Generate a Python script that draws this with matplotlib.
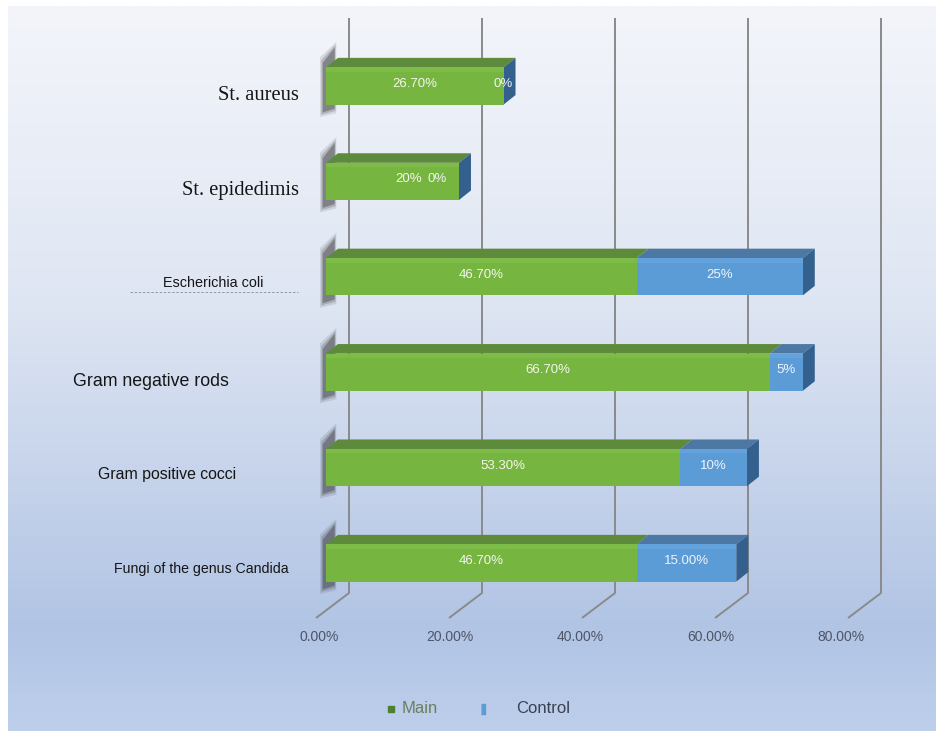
import numpy as np
import matplotlib
matplotlib.use('Agg')
from matplotlib import pyplot as plt
from matplotlib.patches import Rectangle, Polygon
from matplotlib.colors import LinearSegmentedColormap

# data
categories = ['St. aureus', 'St. epidedimis', 'Escherichia coli',
              'Gram negative rods', 'Gram positive cocci', 'Fungi of the genus Candida']
main = [26.7, 20.0, 46.7, 66.7, 53.3, 46.7]
control = [0.0, 0.0, 25.0, 5.0, 10.0, 15.0]
main_labels = ['26.70%', '20%', '46.70%', '66.70%', '53.30%', '46.70%']
control_labels = ['0%', '0%', '25%', '5%', '10%', '15.00%']
ticks = [0, 20, 40, 60, 80]
tick_labels = ['0.00%', '20.00%', '40.00%', '60.00%', '80.00%']
series = ['Main', 'Control']

# layout (pixels -> data)
W, H = 937, 731
x0_px, px_pct = 326, 6.65      # 0% position, px per 1%
y0_px, px_row = 86, 95.4       # first row centre, px per row
def dx(px): return (px - x0_px) / px_pct
def dy(py): return (py - y0_px) / px_row

fig = plt.figure(figsize=(W/100, H/100), dpi=100, facecolor='white')
ax = fig.add_axes([0, 0, 1, 1])
ax.set_xlim(dx(0), dx(W))
ax.set_ylim(dy(H), dy(0))
ax.axis('off')

# background gradient
cmap = LinearSegmentedColormap.from_list('bg', [(0, '#f3f5fa'), (0.4, '#dfe6f3'),
                                                (0.86, '#b1c4e4'), (1, '#bdcfeb')])
ax.imshow(np.linspace(0, 1, 256).reshape(-1, 1), cmap=cmap, aspect='auto',
          extent=[dx(8), dx(W), dy(H), dy(6)], zorder=0, interpolation='bilinear')

# back wall grid + floor lines
back = 3.46
for t in ticks:
    ax.plot([t + back, t + back, t - 1.5], [dy(18), dy(593), dy(618)],
            color='#8a8a8a', lw=1.4, zorder=1, solid_capstyle='butt')

h = 0.39
ddx, ddy = 1.8, -0.1
g_front, g_top = '#77b541', '#5e8a3c'
b_front, b_top, b_side = '#5b9bd6', '#4d78a4', '#33608d'

for i, (m, c) in enumerate(zip(main, control)):
    top = i - h/2
    bot = i + h/2
    # dark blurred left end (soft layers)
    for k, a in enumerate([0.12, 0.2, 0.35]):
        g = 0.35 - k*0.12
        ax.add_patch(Polygon([(-0.9 + k*0.2, top - 0.02 - g*0.25),
                              (1.2 + g, top + ddy - 0.08 - g*0.25),
                              (1.2 + g, bot + ddy + 0.12 + g*0.2),
                              (-0.9 + k*0.2, bot + 0.06 + g*0.2)],
                             fc='#2b2b2b', ec='none', alpha=a, zorder=2))
    # main segment
    ax.add_patch(Polygon([(0, top), (m, top), (m + ddx, top + ddy), (ddx, top + ddy)],
                         fc=g_top, ec='none', zorder=3))
    ax.add_patch(Rectangle((0, top), m, h, fc=g_front, ec='none', zorder=4))
    ax.add_patch(Rectangle((0, top), m, h*0.12, fc='#84c24f', ec='none', zorder=4, alpha=0.6))
    # control segment
    ax.add_patch(Polygon([(m, top), (m + c, top), (m + c + ddx, top + ddy), (m + ddx, top + ddy)],
                         fc=b_top, ec='none', zorder=3))
    ax.add_patch(Rectangle((m, top), c, h, fc=b_front, ec='none', zorder=4))
    ax.add_patch(Rectangle((m, top), c, h*0.12, fc='#6aa8e2', ec='none', zorder=4, alpha=0.6))
    e = m + c
    ax.add_patch(Polygon([(e, top), (e + ddx, top + ddy), (e + ddx, bot + ddy), (e, bot)],
                         fc=b_side, ec='none', zorder=3))

    # value labels
    mx, cx = m/2, m + c/2
    if i == 1:
        mx, cx = m/2 + 2.5, m - 3.3
    ax.text(mx, i - 0.02, main_labels[i], ha='center', va='center', fontsize=9.5,
            color='#f4f6ee', family='Liberation Sans', zorder=6)
    ax.text(cx, i - 0.02, control_labels[i], ha='center', va='center', fontsize=9.5,
            color='#eef4fb', family='Liberation Sans', zorder=6)

# category labels
cat_style = [
    dict(x=299, y=96, size=14.8, family='Liberation Serif'),
    dict(x=299, y=191, size=14.8, family='Liberation Serif'),
    dict(x=263, y=283, size=10.4, family='Liberation Sans'),
    dict(x=229, y=382, size=12.8, family='Liberation Sans'),
    dict(x=236, y=475, size=11.4, family='Liberation Sans'),
    dict(x=289, y=569, size=10.2, family='Liberation Sans'),
]
for name, st in zip(categories, cat_style):
    ax.text(dx(st['x']), dy(st['y']), name, ha='right', va='center',
            fontsize=st['size'], family=st['family'], color='#151515', zorder=6)
ax.plot([dx(130), dx(298)], [dy(292), dy(292)], color='#8a8f99', lw=0.6,
        ls=(0, (3, 2)), zorder=5)

# x tick labels
for t, lab in zip(ticks, tick_labels):
    ax.text(t - 1.0 - 0.02*t, dy(637), lab, ha='center', va='center', fontsize=10,
            family='Liberation Sans', color='#4e5566', zorder=6)

# legend
ly = dy(709)
bar_marker = [(-0.35, -1), (0.35, -1), (0.35, 1), (-0.35, 1)]
ax.plot([dx(391)], [ly], marker='s', ms=5, color='#4f7f33', ls='none', zorder=6)
ax.text(dx(402), ly, series[0], ha='left', va='center', fontsize=12,
        family='Liberation Sans', color='#6b7f5f', zorder=6)
ax.plot([dx(483)], [ly], marker=bar_marker, ms=7, color='#5b9bd6', ls='none', zorder=6)
ax.text(dx(516), ly, series[1], ha='left', va='center', fontsize=12,
        family='Liberation Sans', color='#3a4253', zorder=6)

plt.savefig('out.png', dpi=100, facecolor='white')
